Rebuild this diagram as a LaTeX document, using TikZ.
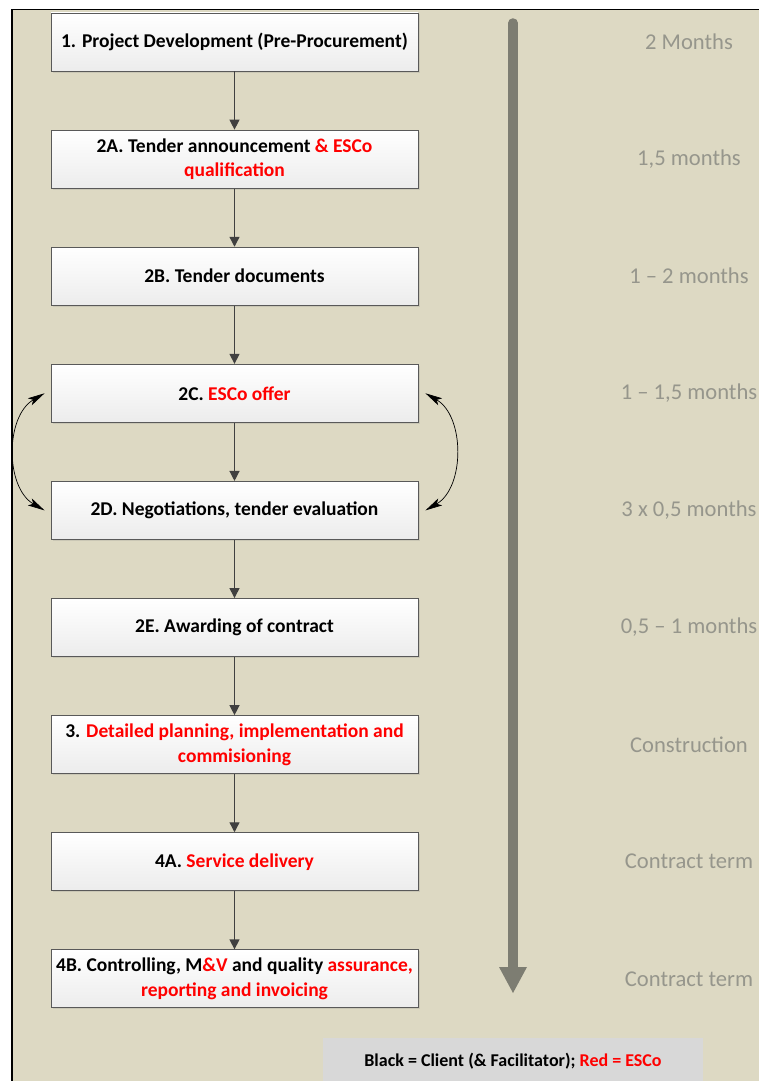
\documentclass[tikz,border=0pt]{standalone}
\usepackage{fontspec}
\setmainfont{Carlito}
\usetikzlibrary{arrows.meta, positioning, shadows}

\definecolor{bgbeige}{RGB}{221,217,195}
\definecolor{boxline}{RGB}{89,89,89}
\definecolor{boxbottom}{RGB}{236,236,236}
\definecolor{flowgray}{RGB}{64,64,64}
\definecolor{durgray}{RGB}{150,150,140}
\definecolor{bargray}{RGB}{125,125,114}
\definecolor{keygray}{RGB}{216,216,216}
\definecolor{escored}{RGB}{255,0,0}

\newcommand{\esco}[1]{\textcolor{escored}{#1}}

\begin{document}
\begin{tikzpicture}[
x=1pt, y=-1pt,
stepbox/.style={
draw=boxline,
line width=0.9pt,
top color=white,
bottom color=boxbottom,
drop shadow={opacity=0.2, shadow xshift=1.5pt, shadow yshift=-1.5pt},
minimum width=367pt,
minimum height=58pt,
inner sep=2pt,
align=center,
font=\fontsize{19.5}{24.5}\selectfont\bfseries
},
dur/.style={
text=durgray,
font=\fontsize{22.6}{27}\selectfont
},
flow/.style={draw=flowgray, line width=1.3pt, -{Triangle[length=10pt, width=10pt]}},
loopback/.style={draw=black, line width=0.7pt, {Stealth[length=17pt, width=8pt, inset=4pt]}-{Stealth[length=17pt, width=8pt, inset=4pt]}},
bar/.style={draw=bargray, line width=9.5pt, line cap=round, -{Triangle[length=26pt, width=28pt, line width=0pt]}},
node distance=58.2pt
]

\useasboundingbox (0,0) rectangle (759,1081);

% ------------------------
% Background and frame
% ------------------------
\fill[bgbeige] (12,9.5) rectangle (759,1081);
\draw[line width=1.5pt] (12,1081) -- (12,9.5) -- (759,9.5);

% ------------------------
% Process steps (left)
% ------------------------
\node[stepbox] (s1) at (234.5,42) {1. Project Development (Pre-Procurement)};

\node[stepbox, below=of s1] (s2a)
{2A. Tender announcement \esco{\& ESCo}\\ \esco{qualification}};

\node[stepbox, below=of s2a] (s2b) {2B. Tender documents};

\node[stepbox, below=of s2b] (s2c) {2C. \esco{ESCo offer}};

\node[stepbox, below=of s2c] (s2d) {2D. Negotiations, tender evaluation};

\node[stepbox, below=of s2d] (s2e) {2E. Awarding of contract};

\node[stepbox, below=of s2e] (s3)
{3. \esco{Detailed planning, implementation and}\\ \esco{commisioning}};

\node[stepbox, below=of s3] (s4a) {4A. \esco{Service delivery}};

\node[stepbox, below=of s4a] (s4b)
{4B. Controlling, M\esco{\&V} and quality \esco{assurance,}\\ \esco{reporting and invoicing}};

% ------------------------
% Arrows (straight down)
% ------------------------
\draw[flow] (s1) -- (s2a);
\draw[flow] (s2a) -- (s2b);
\draw[flow] (s2b) -- (s2c);
\draw[flow] (s2c) -- (s2d);
\draw[flow] (s2d) -- (s2e);
\draw[flow] (s2e) -- (s3);
\draw[flow] (s3) -- (s4a);
\draw[flow] (s4a) -- (s4b);

% Back and forth between offer and negotiations
\draw[loopback] ([xshift=-6pt]s2c.west) to[bend right=60] ([xshift=-6pt]s2d.west);
\draw[loopback] ([xshift=7pt]s2c.east) to[bend left=60] ([xshift=7pt]s2d.east);

% ------------------------
% Time bar and durations (right)
% ------------------------
\coordinate (bartop) at (513,23);
\coordinate (bartip) at (513,993);
\draw[bar] (bartop) -- (bartip);

\node[dur] (t1) at ([xshift=454.5pt]s1.center) {2 Months};
\node[dur] (t2) at ([xshift=454.5pt]s2a.center) {1,5 months};
\node[dur] (t3) at ([xshift=454.5pt]s2b.center) {1 -- 2 months};
\node[dur] (t4) at ([xshift=454.5pt]s2c.center) {1 -- 1,5 months};
\node[dur] (t5) at ([xshift=454.5pt]s2d.center) {3 x 0,5 months};
\node[dur] (t6) at ([xshift=454.5pt]s2e.center) {0,5 -- 1 months};
\node[dur] (t7) at ([xshift=454.5pt]s3.center) {Construction};
\node[dur] (t8) at ([xshift=454.5pt]s4a.center) {Contract term};
\node[dur] (t9) at ([xshift=454.5pt]s4b.center) {Contract term};

% ------------------------
% Colour key (bottom)
% ------------------------
\node (key) [
fill=keygray,
minimum width=380pt,
minimum height=46pt,
font=\fontsize{18}{22}\selectfont\bfseries
] at (513,1061)
{Black = Client (\& Facilitator); \esco{Red = ESCo}};

\end{tikzpicture}
\end{document}
